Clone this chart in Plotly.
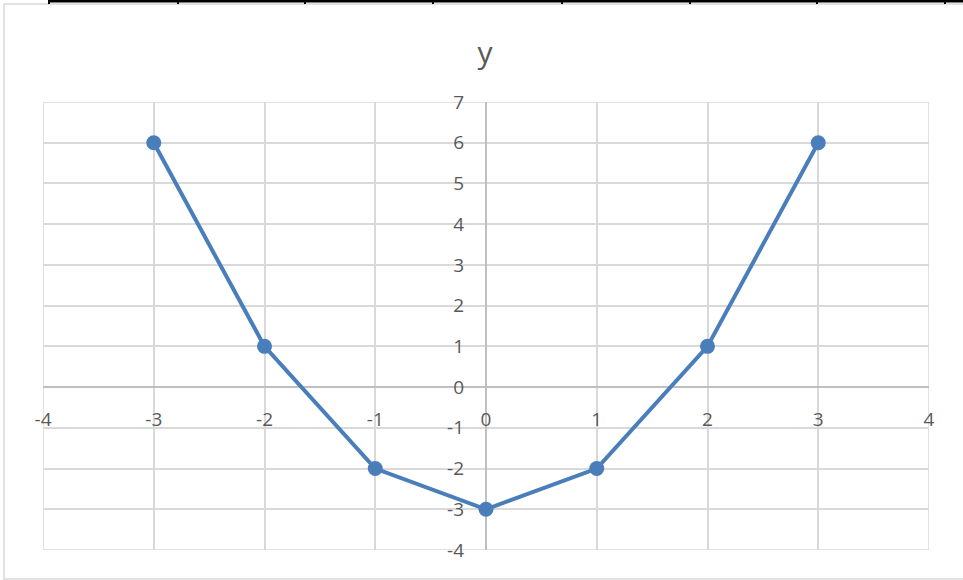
import plotly.graph_objects as go

# Data
x_vals = [-3, -2, -1, 0, 1, 2, 3]
y_vals = [6, 1, -2, -3, -2, 1, 6]
x_ticks = [-4, -3, -2, -1, 0, 1, 2, 3, 4]
y_ticks = [-4, -3, -2, -1, 0, 1, 2, 3, 4, 5, 6, 7]
title_text = "y"

W, H = 963, 580
L, R, T, B = 43, 929, 102, 550   # plot area in pixels


def px(xp):
    return (xp - L) / (R - L)


def py(yp):
    return (B - yp) / (B - T)


text_grey = "#595959"
grid_grey = "#d9d9d9"
line_blue = "#4a7ebb"

fig = go.Figure(go.Scatter(
    x=x_vals, y=y_vals, mode="lines+markers",
    line=dict(color=line_blue, width=4),
    marker=dict(color=line_blue, size=15),
    showlegend=False, hoverinfo="skip",
))

# chart area border and the black rule at the top of the page
shapes = [
    dict(type="rect", xref="paper", yref="paper",
         x0=px(4), x1=px(990), y0=py(579), y1=py(4),
         line=dict(color=grid_grey, width=1.5), layer="below"),
    dict(type="line", xref="paper", yref="paper",
         x0=px(49), x1=px(990), y0=py(1.2), y1=py(1.2),
         line=dict(color="black", width=2.6)),
]
for tx in [49, 178, 305, 433, 562, 690, 817, 945]:
    shapes.append(dict(type="line", xref="paper", yref="paper",
                       x0=px(tx), x1=px(tx), y0=py(0), y1=py(4),
                       line=dict(color="black", width=2)))
shapes.append(dict(type="rect", xref="x", yref="y", x0=-4, x1=4, y0=-4, y1=7,
                   line=dict(color=grid_grey, width=1.5), layer="below"))

fig.update_layout(
    width=W, height=H,
    margin=dict(l=L, r=W - R, t=T, b=H - B),
    paper_bgcolor="white", plot_bgcolor="white",
    font=dict(family="Open Sans", color=text_grey),
    title=dict(text=title_text, x=485 / W, xanchor="center",
               y=1 - 52 / H, yanchor="middle", yref="container",
               font=dict(size=30, color=text_grey)),
    shapes=shapes,
    xaxis=dict(range=[-4, 4], tickmode="array", tickvals=x_ticks,
               ticktext=[str(v) for v in x_ticks],
               anchor="free", position=4 / 11,
               showgrid=True, gridcolor=grid_grey, gridwidth=1.5,
               zeroline=True, zerolinecolor="#bfbfbf", zerolinewidth=1.5,
               showline=False, ticks="",
               tickfont=dict(size=19, color=text_grey),
               ticklabelstandoff=19),
    yaxis=dict(range=[-4, 7], tickmode="array", tickvals=y_ticks,
               ticktext=[str(v) for v in y_ticks],
               anchor="free", position=0.5, side="left",
               showgrid=True, gridcolor=grid_grey, gridwidth=1.5,
               zeroline=True, zerolinecolor="#bfbfbf", zerolinewidth=1.5,
               showline=False, ticks="",
               tickfont=dict(size=19, color=text_grey),
               ticklabelstandoff=22),
)

fig.write_html("out.html", config={"displayModeBar": False},
               post_script="document.body.style.margin='0';")
